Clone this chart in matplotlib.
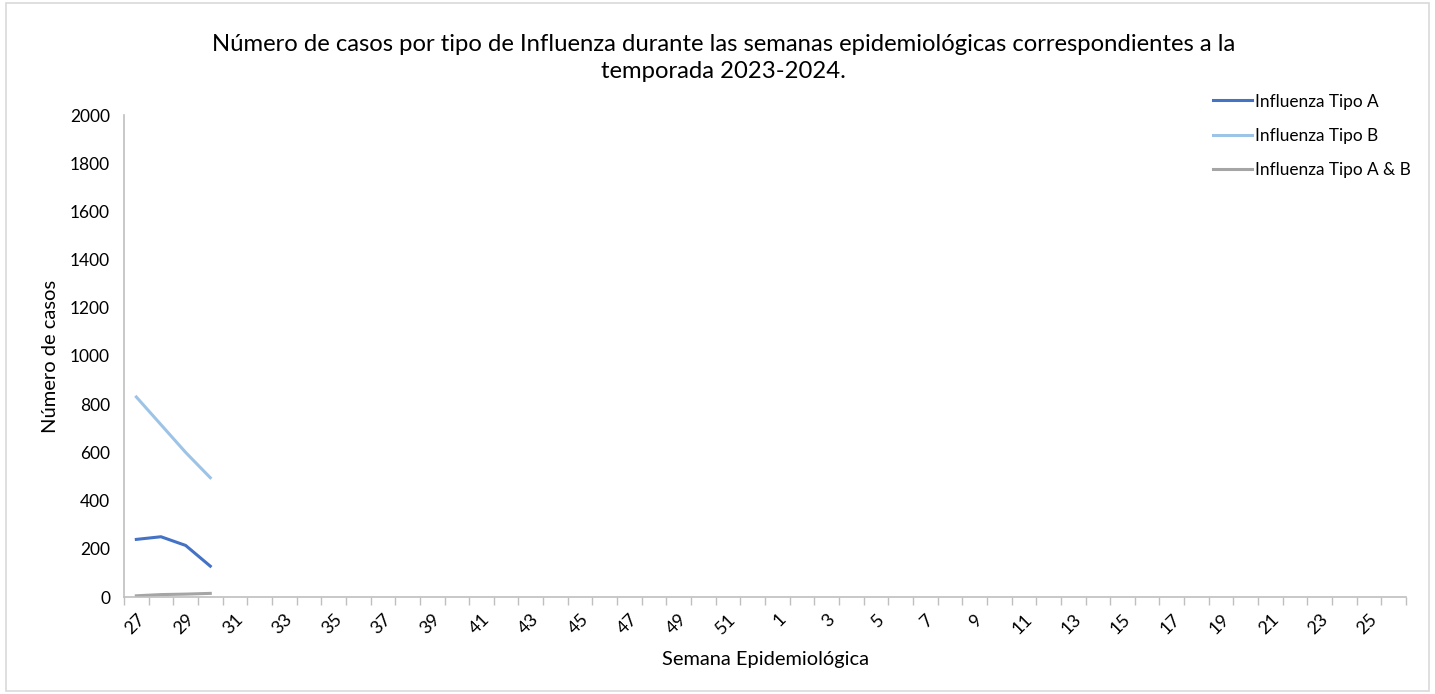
import matplotlib.pyplot as plt
import numpy as np

plt.rcParams['font.family'] = ['Lato', 'DejaVu Sans']

# Semanas epidemiológicas 27-52 y 1-26
semanas = list(range(27, 53)) + list(range(1, 27))
tipo_a = [239, 250, 214, 128]
tipo_b = [830, 715, 600, 495]
tipo_ab = [5, 10, 12, 15]

series = [
    ("Influenza Tipo A", tipo_a, "#4472C4"),
    ("Influenza Tipo B", tipo_b, "#9DC3E6"),
    ("Influenza Tipo A & B", tipo_ab, "#A5A5A5"),
]

fig = plt.figure(figsize=(14.35, 6.94), dpi=100)
ax = fig.add_axes([124 / 1435, 1 - 597 / 694, (1406 - 124) / 1435, (597 - 115) / 694])

for nombre, vals, color in series:
    ax.plot(np.arange(len(vals)), vals, color=color, lw=2.2, label=nombre)

ax.set_xlim(-0.5, len(semanas) - 0.5)
ax.set_ylim(0, 2000)
ax.set_yticks(range(0, 2001, 200))
ax.tick_params(axis='y', length=0, labelsize=12.5, pad=10)

idx = np.arange(0, len(semanas), 2)
ax.set_xticks(idx)
ax.set_xticklabels([str(semanas[i]) for i in idx], rotation=45, ha='right',
                   rotation_mode='anchor', fontsize=13)
ax.tick_params(axis='x', which='major', length=0, pad=10)
ax.set_xticks(np.arange(-0.5, len(semanas), 1), minor=True)
ax.tick_params(axis='x', which='minor', length=6, color='#BFBFBF', width=1)

for s in ['top', 'right']:
    ax.spines[s].set_visible(False)
for s in ['left', 'bottom']:
    ax.spines[s].set_color('#BFBFBF')
    ax.spines[s].set_linewidth(1.2)

ax.set_xlabel("Semana Epidemiológica", fontsize=14.4, labelpad=10)
ax.set_ylabel("Número de casos", fontsize=14.5, labelpad=8)

fig.text(0.504, 1 - 58 / 694,
         "Número de casos por tipo de Influenza durante las semanas epidemiológicas correspondientes a la\ntemporada 2023-2024.",
         ha='center', va='center', fontsize=17.2, linespacing=1.35)

ax.legend(loc='upper left', bbox_to_anchor=(1197 / 1435, 1 - 78 / 694), bbox_transform=fig.transFigure,
          frameon=False, fontsize=12.4, handlelength=2.3, handletextpad=0.15, labelspacing=1.05)

fig.patches.append(plt.Rectangle((0.004, 0.004), 0.992, 0.992, transform=fig.transFigure,
                                 fill=False, edgecolor='#D9D9D9', lw=1.2))

fig.savefig("out.png", dpi=100)
